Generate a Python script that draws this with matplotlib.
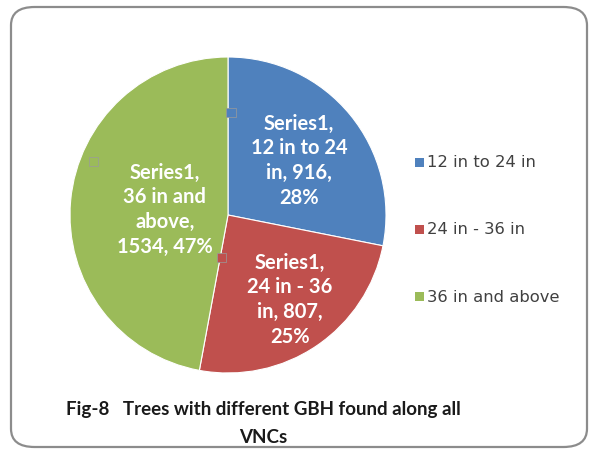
import matplotlib
matplotlib.use("Agg")
import matplotlib.pyplot as plt
from matplotlib.patches import FancyBboxPatch, Rectangle

plt.rcParams['font.family'] = ['Lato', 'DejaVu Sans']

categories = ['12 in to 24 in', '24 in - 36 in', '36 in and above']
counts = [916, 807, 1534]
colors = ['#4F81BD', '#C0504D', '#9BBB59']
series_name = 'Series1'

W, H = 592, 456
fig = plt.figure(figsize=(W / 100, H / 100), dpi=100)
fig.patch.set_facecolor('white')

# rounded chart frame, kept behind the pie axes
frame = FancyBboxPatch((11 / W, 8 / H), 576 / W, 440 / H,
                       boxstyle='round,pad=0,rounding_size=0.04',
                       transform=fig.transFigure, facecolor='white',
                       edgecolor='#8c8c8c', linewidth=1.6, zorder=-5)
fig.patches.append(frame)

# pie axes, centre ~ (228, 216) px, radius ~ 157 px
cx, cy, r = 228, 216, 158
ax = fig.add_axes([(cx - r) / W, (H - cy - r) / H, 2 * r / W, 2 * r / H])
ax.set_zorder(2)
wedges, _ = ax.pie(counts, colors=colors, startangle=90, counterclock=False,
                   wedgeprops=dict(linewidth=0.8, edgecolor='white'))
ax.set_xlim(-1, 1)
ax.set_ylim(-1, 1)
ax.set_aspect('auto')

total = sum(counts)
label_pos = [(0.45, 0.35), (0.39, -0.53), (-0.40, 0.04)]
for cat, n, (lx, ly) in zip(categories, counts, label_pos):
    pct = round(100 * n / total)
    if cat == '12 in to 24 in':
        txt = f'{series_name},\n12 in to 24\nin, {n},\n{pct}%'
    elif cat == '24 in - 36 in':
        txt = f'{series_name},\n24 in - 36\nin, {n},\n{pct}%'
    else:
        txt = f'{series_name},\n36 in and\nabove,\n{n}, {pct}%'
    ax.text(lx, ly, txt, ha='center', va='center', color='white',
            fontsize=14.5, fontweight='bold', linespacing=1.3)

# small leader markers next to the labels
for (mx, my), c in zip([(0.02, 0.65), (-0.04, -0.27), (-0.85, 0.34)], colors):
    ax.add_patch(Rectangle((mx - 0.03, my - 0.03), 0.06, 0.06,
                           facecolor=c, edgecolor='#9a9a9a', linewidth=0.5))

# legend
for i, (cat, c) in enumerate(zip(categories, colors)):
    y = 163 + i * 67
    fig.patches.append(Rectangle((415 / W, (H - y - 4.5) / H), 9 / W, 9 / H,
                                 transform=fig.transFigure, facecolor=c,
                                 edgecolor='none'))
    fig.text(427 / W, (H - y) / H, cat, ha='left', va='center',
             fontsize=11.8, color='#404040', family=['DejaVu Sans'])

# caption
fig.text(263 / W, (H - 410) / H, 'Fig-8   Trees with different GBH found along all',
         ha='center', va='center', fontsize=13.5, fontweight='bold', color='#1a1a1a')
fig.text(263 / W, (H - 438) / H, 'VNCs', ha='center', va='center',
         fontsize=13.5, fontweight='bold', color='#1a1a1a')

fig.savefig('out.png', dpi=100)
